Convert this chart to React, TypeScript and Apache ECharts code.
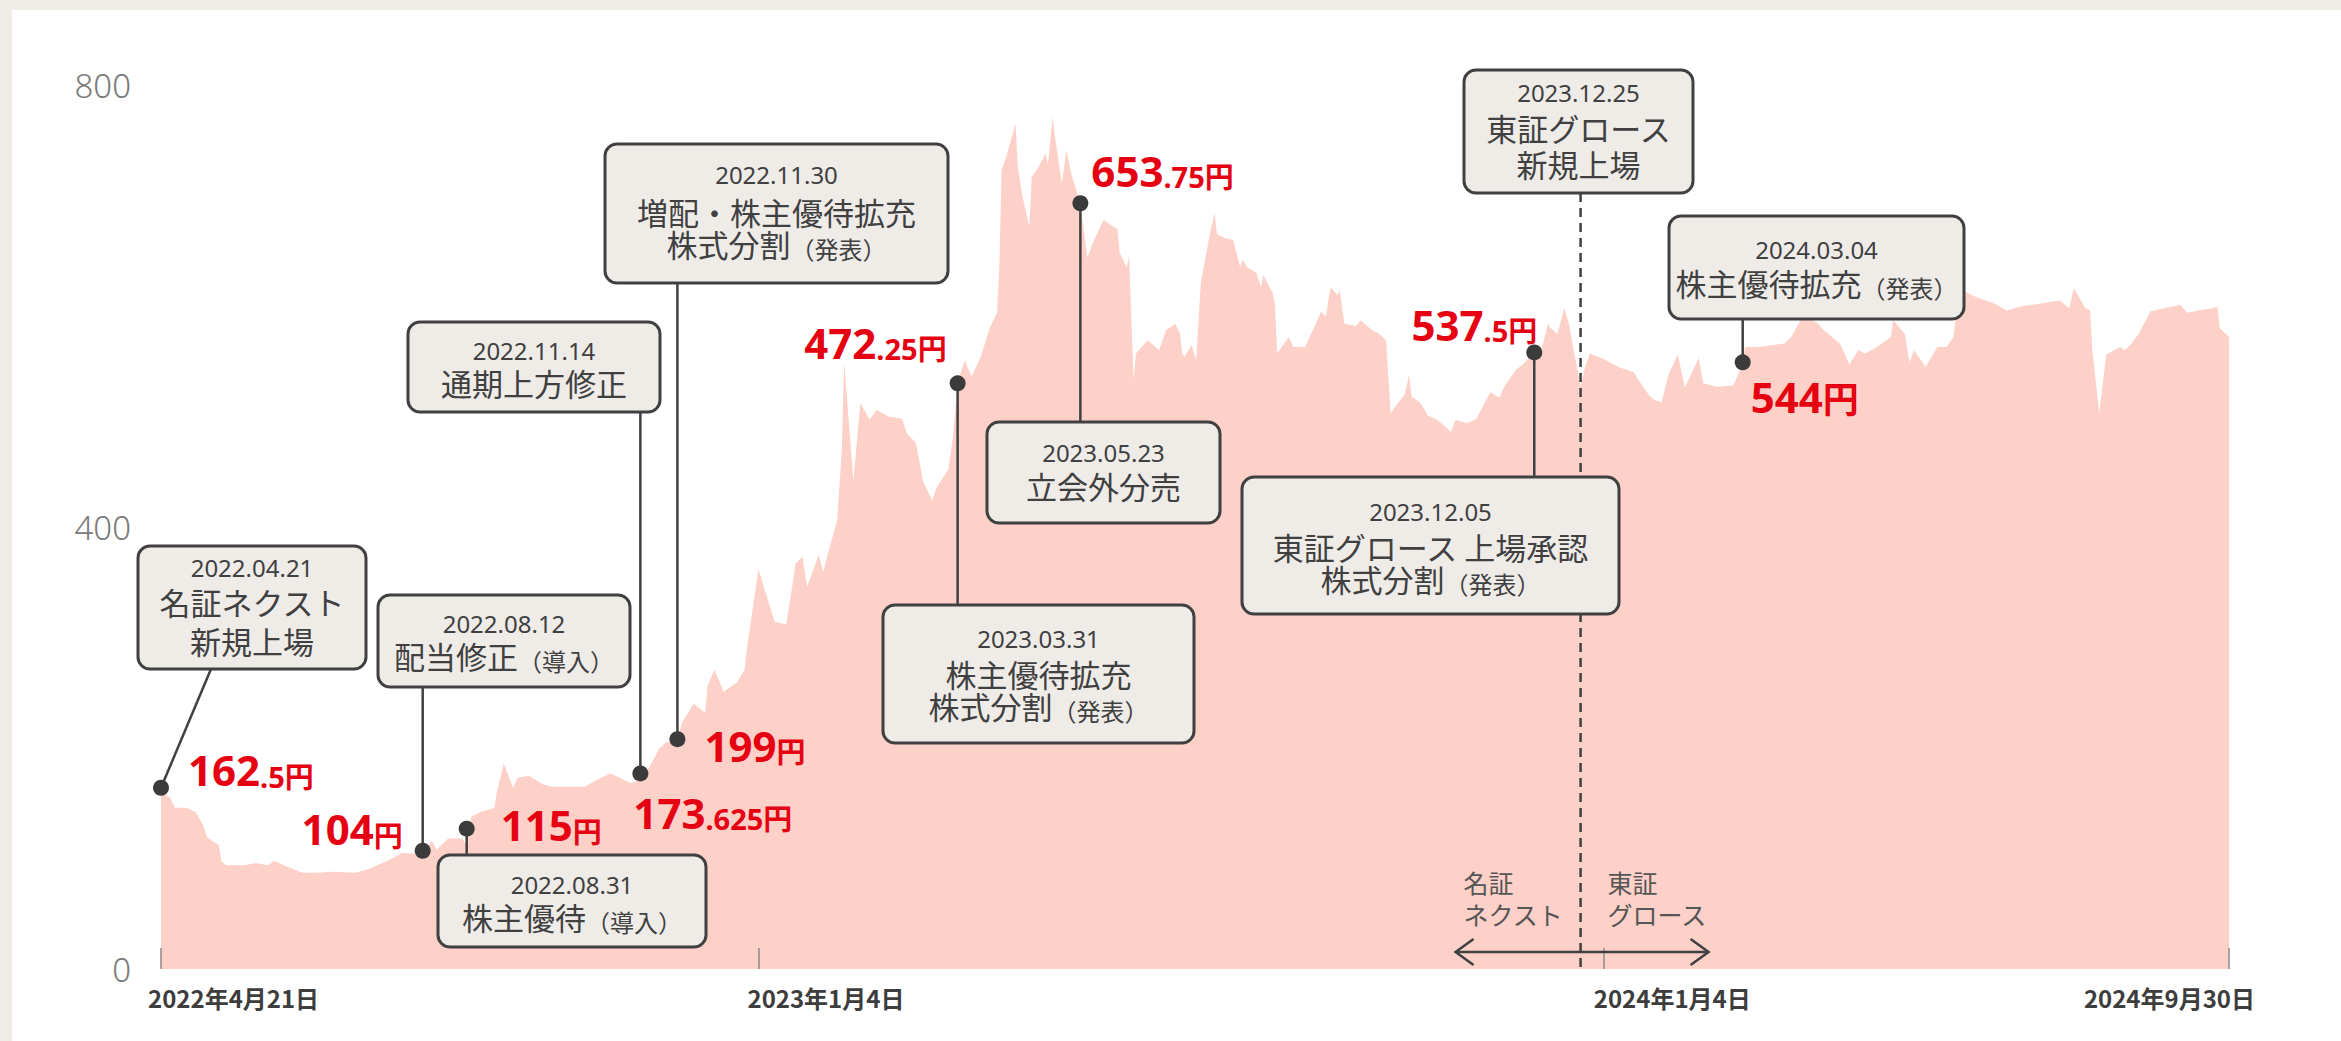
import React, { useEffect, useRef } from 'react';
import * as echarts from 'echarts';

// ---------- DATA ----------
const priceDates = [
  '2022-04-21','2022-04-25','2022-04-27','2022-05-02','2022-05-06','2022-05-09','2022-05-11','2022-05-16','2022-05-17','2022-05-19',
  '2022-05-27','2022-06-01','2022-06-06','2022-06-09','2022-06-13','2022-06-21','2022-06-27','2022-07-04','2022-07-14','2022-07-19',
  '2022-07-28','2022-08-03','2022-08-12','2022-08-16','2022-08-18','2022-08-23','2022-08-29','2022-08-31','2022-09-02','2022-09-06',
  '2022-09-12','2022-09-13','2022-09-16','2022-09-20','2022-09-22','2022-09-27','2022-10-03','2022-10-07','2022-10-21','2022-10-28',
  '2022-11-01','2022-11-10','2022-11-14','2022-11-18','2022-11-22','2022-11-25','2022-11-30','2022-12-02','2022-12-07','2022-12-12',
  '2022-12-13','2022-12-16','2022-12-20','2022-12-26','2022-12-29','2022-12-30','2023-01-04','2023-01-06','2023-01-11','2023-01-16',
  '2023-01-19','2023-01-20','2023-01-23','2023-01-25','2023-01-30','2023-02-01','2023-02-03','2023-02-07','2023-02-09','2023-02-10',
  '2023-02-14','2023-02-17','2023-02-21','2023-02-24','2023-03-01','2023-03-07','2023-03-09','2023-03-13','2023-03-16','2023-03-20',
  '2023-03-22','2023-03-27','2023-03-29','2023-03-31','2023-04-03','2023-04-06','2023-04-10','2023-04-14','2023-04-17','2023-04-18',
  '2023-04-19','2023-04-21','2023-04-25','2023-04-26','2023-04-28','2023-05-01','2023-05-02','2023-05-05','2023-05-08','2023-05-09',
  '2023-05-11','2023-05-12','2023-05-15','2023-05-17','2023-05-19','2023-05-23','2023-05-26','2023-05-29','2023-06-02','2023-06-06',
  '2023-06-08','2023-06-09','2023-06-12','2023-06-13','2023-06-14','2023-06-15','2023-06-16','2023-06-21','2023-06-26','2023-06-29',
  '2023-07-03','2023-07-05','2023-07-06','2023-07-07','2023-07-10','2023-07-12','2023-07-14','2023-07-18','2023-07-20','2023-07-21',
  '2023-07-25','2023-07-28','2023-07-31','2023-08-01','2023-08-03','2023-08-07','2023-08-09','2023-08-10','2023-08-14','2023-08-15',
  '2023-08-16','2023-08-21','2023-08-23','2023-08-28','2023-09-01','2023-09-04','2023-09-06','2023-09-08','2023-09-11','2023-09-12',
  '2023-09-14','2023-09-19','2023-09-21','2023-09-26','2023-09-29','2023-10-02','2023-10-04','2023-10-06','2023-10-10','2023-10-12',
  '2023-10-13','2023-10-17','2023-10-20','2023-10-24','2023-10-27','2023-10-30','2023-11-01','2023-11-06','2023-11-10','2023-11-16',
  '2023-11-20','2023-11-22','2023-11-27','2023-11-30','2023-12-05','2023-12-08','2023-12-11','2023-12-12','2023-12-15','2023-12-18',
  '2023-12-20','2023-12-22','2023-12-25','2023-12-27','2023-12-29','2024-01-04','2024-01-10','2024-01-17','2024-01-19','2024-01-24',
  '2024-01-26','2024-01-29','2024-02-01','2024-02-05','2024-02-08','2024-02-14','2024-02-16','2024-02-22','2024-02-29','2024-03-04',
  '2024-03-05','2024-03-11','2024-03-18','2024-03-22','2024-03-25','2024-03-29','2024-04-01','2024-04-05','2024-04-08','2024-04-15',
  '2024-04-17','2024-04-19','2024-04-23','2024-04-26','2024-05-01','2024-05-07','2024-05-08','2024-05-13','2024-05-15','2024-05-17',
  '2024-05-22','2024-05-27','2024-05-31','2024-06-03','2024-06-05','2024-06-07','2024-06-13','2024-06-17','2024-06-20','2024-06-26',
  '2024-07-03','2024-07-10','2024-07-19','2024-07-23','2024-07-25','2024-07-30','2024-08-01','2024-08-02','2024-08-05','2024-08-08',
  '2024-08-14','2024-08-16','2024-08-19','2024-08-22','2024-08-27','2024-09-02','2024-09-09','2024-09-12','2024-09-17','2024-09-23',
  '2024-09-25','2024-09-26','2024-09-30',
];
const priceValues = [
  160,155,146,146,142,131,119,112,98,94,
  94,96,94,98,94,87,87,88,87,90,
  98,105,104,116,108,118,118,112,138,142,
  146,160,186,164,173,175,167,165,165,173,
  177,168,172,183,199,205,208,223,240,232,
  256,271,251,260,271,290,362,348,314,312,
  352,367,373,346,375,359,376,406,470,549,
  442,512,497,506,500,498,485,476,442,424,
  436,452,482,530,551,536,554,581,594,635,
  723,735,765,726,699,672,717,726,738,728,
  771,753,711,741,720,693,644,660,678,672,
  670,648,635,645,590,533,557,569,560,578,
  584,575,557,554,565,551,621,666,684,665,
  661,660,635,642,635,630,617,628,612,602,
  557,572,563,563,581,595,590,617,610,614,
  584,582,587,578,575,569,503,509,520,538,
  518,512,501,497,492,486,497,494,498,522,
  517,527,542,547,558,560,584,580,575,598,
  584,560,527,545,557,552,545,540,533,518,
  515,513,538,556,526,553,530,527,528,548,
  563,563,565,566,572,587,589,585,578,566,
  557,547,560,557,563,572,587,575,549,560,
  545,563,563,572,605,614,608,605,603,596,
  600,602,605,598,616,598,596,560,503,556,
  563,560,566,575,595,598,601,594,596,598,
  599,580,572,
];

const yTicks = [0, 400, 800];
const xStart = '2022-04-21';
const xEnd = '2024-09-30';
const xTickDates = ['2022-04-21', '2023-01-04', '2024-01-04', '2024-09-30'];
const xTickLabels = ['2022年4月21日', '2023年1月4日', '2024年1月4日', '2024年9月30日'];

const eventDates = ['2022-04-21','2022-08-12','2022-08-31','2022-11-14','2022-11-30','2023-03-31','2023-05-23','2023-12-05','2024-03-04'];
const eventDotValues = [164, 107, 127, 177, 208, 530, 693, 558, 549];
const eventPrices = ['162.5', '104', '115', '173.625', '199', '472.25', '653.75', '537.5', '544'];
const eventTexts = [
  ['2022.04.21', '名証ネクスト', '新規上場'],
  ['2022.08.12', '配当修正（導入）'],
  ['2022.08.31', '株主優待（導入）'],
  ['2022.11.14', '通期上方修正'],
  ['2022.11.30', '増配・株主優待拡充', '株式分割（発表）'],
  ['2023.03.31', '株主優待拡充', '株式分割（発表）'],
  ['2023.05.23', '立会外分売'],
  ['2023.12.05', '東証グロース 上場承認', '株式分割（発表）'],
  ['2024.03.04', '株主優待拡充（発表）'],
];
const listingDate = '2023-12-25';
const listingTexts = ['2023.12.25', '東証グロース', '新規上場'];
const marketBefore = ['名証', 'ネクスト'];
const marketAfter = ['東証', 'グロース'];

// ---------- LAYOUT (pixels) ----------
const GRID = { left: 161, right: 112, top: 85, bottom: 72 };
const xLabelShift = [-13, -11, -10, 26];
const boxLayout = [
  { x: 138, y: 546, w: 228, h: 123, lines: [21, 55, 94], edge: 'bottom', ax: 211 },
  { x: 378, y: 595, w: 252, h: 92, lines: [28, 60], edge: 'bottom' },
  { x: 438, y: 855, w: 268, h: 92, lines: [29, 61], edge: 'top' },
  { x: 408, y: 322, w: 252, h: 90, lines: [28, 60], edge: 'bottom' },
  { x: 605, y: 144, w: 343, h: 139, lines: [30, 67, 99], edge: 'bottom' },
  { x: 883, y: 605, w: 311, h: 138, lines: [33, 68, 100], edge: 'top' },
  { x: 987, y: 422, w: 233, h: 101, lines: [30, 63], edge: 'top' },
  { x: 1242, y: 477, w: 377, h: 137, lines: [34, 69, 101], edge: 'top' },
  { x: 1669, y: 216, w: 295, h: 103, lines: [33, 66], edge: 'bottom' },
];
const listingBox = { x: 1464, y: 70, w: 229, h: 123, lines: [22, 57, 93] };
const priceLabelLayout = [
  { align: 'left', dx: 27, dy: -18 },
  { align: 'right', dx: -20, dy: -22 },
  { align: 'left', dx: 34, dy: -4 },
  { align: 'left', dx: -7, dy: 39 },
  { align: 'left', dx: 27, dy: 6 },
  { align: 'right', dx: -11, dy: -41 },
  { align: 'left', dx: 11, dy: -33 },
  { align: 'right', dx: 3, dy: -28 },
  { align: 'left', dx: 8, dy: 34, bigYen: true },
];

// ---------- STYLES ----------
const INK = '#404040';
const RED = '#e50012';
const BOX_FILL = '#efece8';
const AREA = '#fdd1c7';
const NUM_FONT = "'Noto Sans', 'Noto Sans CJK JP', sans-serif";
const JP_FONT = "'Noto Sans CJK JP', sans-serif";
const RED_FONT = "'Noto Sans', 'Noto Sans CJK JP', sans-serif";

const ts = (s: string) => {
  const [y, m, d] = s.split('-').map(Number);
  return new Date(y, m - 1, d).getTime();
};

function lineText(cx: number, y: number, text: string, isDate: boolean) {
  if (isDate) {
    return {
      type: 'text', x: cx, y, z: 46, silent: true,
      style: { text, fontFamily: NUM_FONT, fontSize: 24, fill: INK, align: 'center', verticalAlign: 'middle' },
    };
  }
  const k = text.indexOf('（');
  const rich = k >= 0 ? `{m|${text.slice(0, k)}}{s|${text.slice(k)}}` : `{m|${text}}`;
  return {
    type: 'text', x: cx, y, z: 46, silent: true,
    style: {
      text: rich, align: 'center', verticalAlign: 'middle',
      rich: {
        m: { fontFamily: JP_FONT, fontSize: 31, fill: INK, lineHeight: 34 },
        s: { fontFamily: JP_FONT, fontSize: 24, fill: INK, lineHeight: 31, verticalAlign: 'bottom' },
      },
    },
  };
}

function boxEls(b: any, texts: string[]) {
  const els: any[] = [
    {
      type: 'rect', z: 45, silent: true,
      shape: { x: b.x, y: b.y, width: b.w, height: b.h, r: 12 },
      style: { fill: BOX_FILL, stroke: INK, lineWidth: 3 },
    },
  ];
  texts.forEach((t, i) => els.push(lineText(b.x + b.w / 2, b.y + b.lines[i], t, i === 0)));
  return els;
}

function buildGraphics(chart: any) {
  const toPx = (d: string, v: number) => chart.convertToPixel({ xAxisIndex: 0, yAxisIndex: 0 }, [ts(d), v]);
  const els: any[] = [];

  const [lx, baseY] = toPx(listingDate, 0);
  els.push({
    type: 'line', z: 40, silent: true,
    shape: { x1: lx, y1: listingBox.y + listingBox.h, x2: lx, y2: baseY },
    style: { stroke: INK, lineWidth: 2.5, lineDash: [9, 6] },
  });
  const ay = baseY - 17;
  const aL = lx - 125, aR = lx + 128;
  els.push({ type: 'line', z: 40, silent: true, shape: { x1: aL, y1: ay, x2: aR, y2: ay }, style: { stroke: INK, lineWidth: 2.5 } });
  els.push({ type: 'polyline', z: 40, silent: true, shape: { points: [[aL + 18, ay - 13], [aL, ay], [aL + 18, ay + 13]] }, style: { stroke: INK, lineWidth: 2.5, fill: null } });
  els.push({ type: 'polyline', z: 40, silent: true, shape: { points: [[aR - 18, ay - 13], [aR, ay], [aR - 18, ay + 13]] }, style: { stroke: INK, lineWidth: 2.5, fill: null } });
  const mkMarket = (x: number, lines: string[]) =>
    lines.map((t, i) => ({
      type: 'text', x, y: ay - 70 + i * 32, z: 40, silent: true,
      style: { text: t, fontFamily: JP_FONT, fontSize: 25, fill: '#555', align: 'left', verticalAlign: 'middle' },
    }));
  els.push(...mkMarket(lx - 117, marketBefore));
  els.push(...mkMarket(lx + 27, marketAfter));

  els.push(...boxEls(listingBox, listingTexts));

  eventDates.forEach((d, i) => {
    const [px, py] = toPx(d, eventDotValues[i]);
    const b = boxLayout[i];
    let x1 = px;
    const y1 = b.edge === 'top' ? b.y : b.y + b.h;
    if (b.ax !== undefined) x1 = b.ax;
    els.push({
      type: 'line', z: 40, silent: true,
      shape: { x1, y1, x2: px, y2: py },
      style: { stroke: INK, lineWidth: 2.5 },
    });
    els.push(...boxEls(b, eventTexts[i]));

    const L = priceLabelLayout[i];
    const [intPart, decPart] = eventPrices[i].split('.');
    const text = L.bigYen
      ? `{b|${intPart}}{y|円}`
      : `{b|${intPart}}{s|${decPart ? '.' + decPart : ''}円}`;
    els.push({
      type: 'text', x: px + L.dx, y: py + L.dy, z: 55, silent: true,
      style: {
        text, align: L.align, verticalAlign: 'middle',
        rich: {
          b: { fontFamily: RED_FONT, fontWeight: 'bold', fontSize: 42, fill: RED, lineHeight: 42 },
          s: { fontFamily: RED_FONT, fontWeight: 'bold', fontSize: 29, fill: RED, lineHeight: 35, verticalAlign: 'bottom' },
          y: { fontFamily: RED_FONT, fontWeight: 'bold', fontSize: 36, fill: RED, lineHeight: 39, verticalAlign: 'bottom' },
        },
      },
    });
  });
  return els;
}

export default function App() {
  const ref = useRef<HTMLDivElement>(null);
  useEffect(() => {
    if (!ref.current) return;
    const chart = echarts.init(ref.current, undefined, { renderer: 'svg' });
    const tickTs = xTickDates.map(ts);
    const xRich: any = {};
    xLabelShift.forEach((s, i) => {
      xRich['l' + i] = {
        fontFamily: JP_FONT, fontWeight: 'bold', fontSize: 24, color: '#3d3d3d',
        padding: s < 0 ? [0, 0, 0, s] : [0, -s, 0, 0],
      };
    });
    chart.setOption({
      animation: false,
      grid: { ...GRID, containLabel: false },
      xAxis: {
        type: 'value',
        min: ts(xStart),
        max: ts(xEnd),
        offset: 10,
        z: 10,
        axisLine: { show: false },
        splitLine: { show: false },
        axisTick: { show: true, inside: true, length: 21, customValues: tickTs, lineStyle: { color: '#8a8a8a', width: 1.5 } },
        axisLabel: {
          customValues: tickTs,
          formatter: (v: number) => {
            const i = tickTs.indexOf(v);
            return i >= 0 ? `{l${i}|${xTickLabels[i]}}` : '';
          },
          rich: xRich,
          align: 'left',
          alignMaxLabel: 'right',
          margin: 6,
          fontFamily: JP_FONT,
          fontWeight: 'bold',
          fontSize: 24,
          color: '#3d3d3d',
        },
      },
      yAxis: {
        type: 'value',
        min: yTicks[0],
        max: yTicks[yTicks.length - 1],
        interval: 400,
        axisLine: { show: false },
        axisTick: { show: false },
        splitLine: { show: false },
        axisLabel: { margin: 30, fontFamily: NUM_FONT, fontWeight: 300, fontSize: 33, color: '#7a7a7a' },
      },
      series: [
        {
          type: 'line',
          data: priceDates.map((d, i) => [ts(d), priceValues[i]]),
          symbol: 'none',
          lineStyle: { width: 0 },
          areaStyle: { color: AREA, opacity: 1 },
          silent: true,
          z: 2,
        },
        {
          type: 'scatter',
          data: eventDates.map((d, i) => [ts(d), eventDotValues[i]]),
          symbolSize: 16,
          itemStyle: { color: '#3b3b3b', opacity: 1 },
          silent: true,
          z: 50,
        },
      ],
    });
    chart.setOption({ graphic: buildGraphics(chart) });
    return () => chart.dispose();
  }, []);
  return (
    <div style={{ position: 'fixed', left: 0, top: 0, width: 2341, height: 1041, background: '#efece5' }}>
      <div style={{ position: 'absolute', left: 12, top: 10, right: 0, bottom: 0, background: '#fff' }} />
      <div ref={ref} style={{ position: 'absolute', left: 0, top: 0, width: 2341, height: 1041 }} />
    </div>
  );
}
